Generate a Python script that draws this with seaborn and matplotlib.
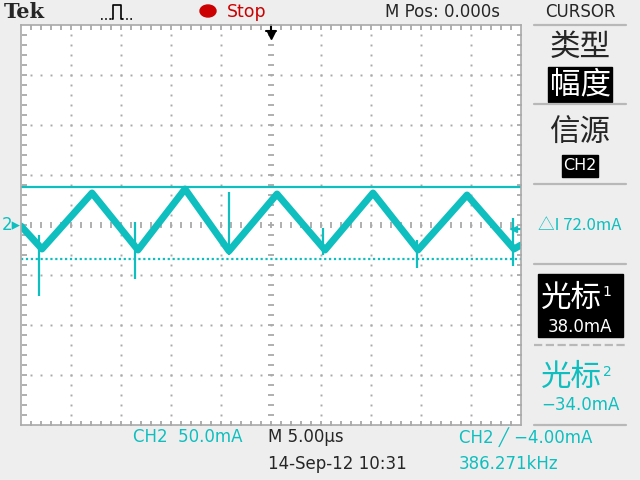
import numpy as np
import pandas as pd
import seaborn as sns
import matplotlib.pyplot as plt
from matplotlib.patches import Rectangle, Circle
from matplotlib.lines import Line2D

# --- data (time in us, current in mA) ---
t_us = [-25.0, -22.9, -17.9, -13.3, -8.6, -4.2, 0.6, 5.4, 10.2, 14.7, 19.6, 24.3, 25.0]
i_ma = [-1, -24, 32, -25, 36, -26, 31, -25, 32, -25, 30, -24, -20]

# glitch spikes on the trace
spike_t = [-23.2, -13.6, -4.2, 5.2, 14.6, 24.2]
spike_lo = [-71, -54, -30, -30, -43, -41]
spike_hi = [-10, 3, 33, -3, -15, 7]

cursor1 = 38.0
cursor2 = -34.0
trig_level = -4.0

TEAL = '#0fbfbf'
GRAY = '#a9a9a9'
BG = '#eeeeee'

sns.set_style("white")
plt.rcParams['font.family'] = ['DejaVu Sans', 'Noto Sans CJK SC']
CJK = ['Noto Sans CJK SC', 'DejaVu Sans']

fig = plt.figure(figsize=(6.4, 4.8), dpi=100, facecolor=BG)
W, H = 640, 480


def fx(x):
    return x / W


def fy(y):
    return 1 - y / H


ax = fig.add_axes([fx(21), fy(425), 500 / W, 400 / H])
ax.set_facecolor('white')
ax.set_xlim(-25, 25)
ax.set_ylim(-200, 200)
ax.set_xticks([])
ax.set_yticks([])
for s in ax.spines.values():
    s.set_color(GRAY)
    s.set_linewidth(1.2)

# --- graticule ---
dots_i = np.arange(-190, 200, 10)
dots_t = np.arange(-24, 25, 1)
for t in [-20, -15, -10, -5, 5, 10, 15, 20]:
    ax.plot([t] * len(dots_i), dots_i, ls='none', marker='s', ms=1.4, mew=0, color=GRAY)
for v in [-150, -100, -50, 50, 100, 150]:
    ax.plot(dots_t, [v] * len(dots_t), ls='none', marker='s', ms=1.4, mew=0, color=GRAY)
# centre cross ticks
ax.plot(dots_t, [0] * len(dots_t), ls='none', marker='|', ms=4, mew=1.3, color=GRAY)
ax.plot([0] * len(dots_i), dots_i, ls='none', marker='_', ms=4, mew=1.3, color=GRAY)
# edge ticks
ax.plot([-24.75] * len(dots_i), dots_i, ls='none', marker='_', ms=3.6, mew=1.3, color=GRAY)
ax.plot([24.75] * len(dots_i), dots_i, ls='none', marker='_', ms=3.6, mew=1.3, color=GRAY)
ax.plot(dots_t, [197.5] * len(dots_t), ls='none', marker='|', ms=3.6, mew=1.3, color=GRAY)
ax.plot(dots_t, [-197.5] * len(dots_t), ls='none', marker='|', ms=3.6, mew=1.3, color=GRAY)

# --- cursors ---
ax.axhline(cursor1, color=TEAL, lw=1.6)
ax.axhline(cursor2, color=TEAL, lw=1.6, ls=(0, (1, 1.2)))

# --- trace ---
df = pd.DataFrame({'t': t_us, 'i': i_ma})
sns.lineplot(data=df, x='t', y='i', sort=False, estimator=None, color=TEAL,
             lw=5, ax=ax, legend=False)
ax.vlines(spike_t, spike_lo, spike_hi, color=TEAL, lw=1.6)
ax.set_xlabel('')
ax.set_ylabel('')

# trigger position marker and trigger level marker
ax.plot([0, 0], [200, 189], color='black', lw=1.5, clip_on=False)
ax.plot([-0.5, 0.5], [194, 194], color='black', lw=1.5)
ax.plot([0], [190], marker='v', ms=6, color='black')
ax.plot([24.0, 25], [trig_level, trig_level], color=TEAL, lw=1.5)
ax.plot([24.3], [trig_level], marker='<', ms=5, color=TEAL)

# --- top bar ---
fig.text(fx(4), fy(12), 'Tek', family='DejaVu Serif', weight='bold', size=15,
         va='center', ha='left')
fig.add_artist(Line2D([fx(101), fx(112)], [fy(19), fy(19)], color='black', lw=1.2,
                      ls=(0, (1, 1.5)), transform=fig.transFigure))
fig.add_artist(Line2D([fx(122), fx(134)], [fy(19), fy(19)], color='black', lw=1.2,
                      ls=(0, (1, 1.5)), transform=fig.transFigure))
pulse_x = [112, 113, 113, 121, 121, 122]
pulse_y = [19, 19, 5, 5, 19, 19]
fig.add_artist(Line2D([fx(v) for v in pulse_x], [fy(v) for v in pulse_y],
                      color='black', lw=1.2, transform=fig.transFigure))
fig.add_artist(Circle((fx(208), fy(11)), 8 / W, color='#cc0000',
                      transform=fig.transFigure))
fig.text(fx(227), fy(12), 'Stop', color='#cc0000', size=12.5, va='center', ha='left')
fig.text(fx(385), fy(12), 'M Pos: 0.000s', size=12, va='center', ha='left')
fig.text(fx(580), fy(12), 'CURSOR', size=12, va='center', ha='center')

# --- right menu ---
for yy, style in [(25, '-'), (104, '-'), (184, '-'), (264, '-'), (345, '--'), (425, '-')]:
    fig.add_artist(Line2D([fx(534), fx(626)], [fy(yy), fy(yy)], color='#b8b8b8',
                          lw=1.6, ls=style, transform=fig.transFigure))


def box(x0, y0, x1, y1):
    fig.add_artist(Rectangle((fx(x0), fy(y1)), (x1 - x0) / W, (y1 - y0) / H,
                             color='black', transform=fig.transFigure))


fig.text(fx(580), fy(47), '类型', family=CJK, size=22, va='center', ha='center')
box(548, 67, 612, 102)
fig.text(fx(580), fy(85), '幅度', family=CJK, size=22, va='center', ha='center',
         color='white')
fig.text(fx(580), fy(132), '信源', family=CJK, size=22, va='center', ha='center')
box(562, 155, 598, 177)
fig.text(fx(580), fy(166), 'CH2', size=11.5, va='center', ha='center', color='white')
fig.text(fx(580), fy(225), '△I 72.0mA', family=CJK, size=12, va='center',
         ha='center', color=TEAL)
box(538, 274, 623, 337)
fig.text(fx(571), fy(298), '光标', family=CJK, size=22, va='center', ha='center',
         color='white')
fig.text(fx(607), fy(292), '1', size=10, va='center', ha='center', color='white')
fig.text(fx(580), fy(327), '38.0mA', size=12, va='center', ha='center', color='white')
fig.text(fx(571), fy(377), '光标', family=CJK, size=22, va='center', ha='center',
         color=TEAL)
fig.text(fx(607), fy(372), '2', size=10, va='center', ha='center', color=TEAL)
fig.text(fx(580), fy(405), '\u221234.0mA', size=12, va='center', ha='center',
         color=TEAL)

# --- left channel marker ---
fig.text(fx(2), fy(225), '2\u25b8', size=12, va='center', ha='left', color=TEAL)

# --- bottom status ---
fig.text(fx(133), fy(437), 'CH2  50.0mA', size=12, va='center', ha='left', color=TEAL)
fig.text(fx(268), fy(437), 'M 5.00\u00b5s', size=12, va='center', ha='left')
fig.text(fx(459), fy(437), 'CH2 \u2571 \u22124.00mA', size=12, va='center', ha='left',
         color=TEAL)
fig.text(fx(268), fy(464), '14-Sep-12 10:31', size=12, va='center', ha='left')
fig.text(fx(459), fy(464), '386.271kHz', size=12, va='center', ha='left', color=TEAL)

fig.savefig('out.png', dpi=100, facecolor=BG)
